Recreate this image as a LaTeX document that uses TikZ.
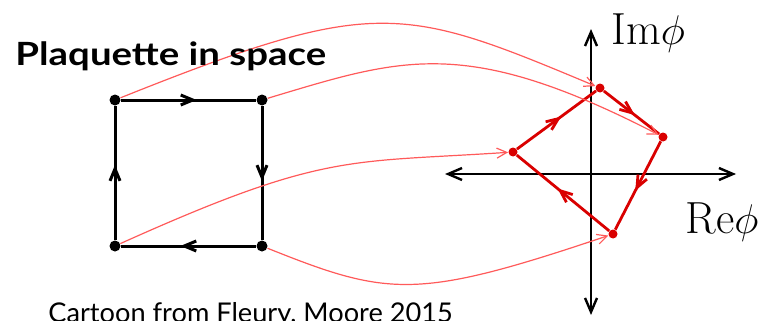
\documentclass[tikz,border=0pt]{standalone}
\usepackage{fontspec}
\newfontfamily\labelfont{Lato}
\newfontfamily\titlefont[FakeStretch=1.2]{Lato}
\usetikzlibrary{arrows.meta,decorations.markings}
\definecolor{vortex}{HTML}{D90000}
\definecolor{mapline}{HTML}{FF5A5A}

\begin{document}
\begin{tikzpicture}[x=0.5pt,y=-0.5pt,
    site/.style={circle, fill=black, inner sep=0pt, minimum size=5.5pt},
    phase/.style={circle, fill=vortex, inner sep=0pt, minimum size=4.5pt},
    midarrow/.style={postaction={decorate}, decoration={markings,
        mark=at position 0.56 with {\arrow{Straight Barb[length=6pt,width=5pt]}}}},
    link/.style={line width=1.5pt, midarrow},
    plink/.style={draw=vortex, line width=1.4pt, midarrow},
    axis/.style={line width=1.2pt, {Straight Barb[length=7pt,width=6pt]}-{Straight Barb[length=7pt,width=6pt]}},
    map/.style={draw=mapline, line width=0.6pt, -{Straight Barb[length=5pt,width=5pt]}}]
  \useasboundingbox (0,0) rectangle (767,321);
  % complex plane
  \coordinate (xl) at (445,174);
  \coordinate (xr) at (736,174);
  \coordinate (yt) at (591,29);
  \coordinate (yb) at (591,315);
  \draw[axis] (xl) -- (xr);
  \draw[axis] (yb) -- (yt);
  % plaquette sites
  \node[site] (tl) at (115,100) {};
  \node[site] (tr) at (262,100) {};
  \node[site] (br) at (262,246) {};
  \node[site] (bl) at (115,246) {};
  % their phases
  \node[phase] (ptop) at (600,88) {};
  \node[phase] (pright) at (663,137) {};
  \node[phase] (pbot) at (613,234) {};
  \node[phase] (pleft) at (513,152) {};
  \draw[link] (tl) -- (tr);
  \draw[link] (tr) -- (br);
  \draw[link] (br) -- (bl);
  \draw[link] (bl) -- (tl);
  \draw[plink] (pleft) -- (ptop);
  \draw[plink] (ptop) -- (pright);
  \draw[plink] (pright) -- (pbot);
  \draw[plink] (pbot) -- (pleft);
  % site -> phase
  \draw[map] (tl) .. controls (375,-4) and (402,5) .. (ptop);
  \draw[map] (tr) .. controls (402,58) and (465,35) .. (pright);
  \draw[map] (bl) .. controls (324,152) and (348,163) .. (pleft);
  \draw[map] (br) .. controls (389,297) and (417,300) .. (pbot);
  % labels
  \node[anchor=base west, inner sep=0pt, font=\titlefont\bfseries\fontsize{16pt}{18pt}\selectfont] (title) at (15,65) {Plaquette in space};
  \node[anchor=base west, inner sep=0pt, font=\fontsize{22.5pt}{24pt}\selectfont] (im) at (611,45) {Im$\phi$};
  \node[anchor=base west, inner sep=0pt, font=\fontsize{22.5pt}{24pt}\selectfont] (re) at (685,233) {Re$\phi$};
  \node[anchor=base west, inner sep=0pt, font=\labelfont\fontsize{13.6pt}{15pt}\selectfont] (credit) at (48,322) {Cartoon from Fleury, Moore 2015};
\end{tikzpicture}
\end{document}
